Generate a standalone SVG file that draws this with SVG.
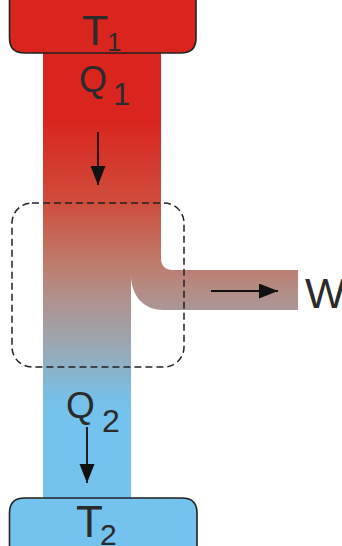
<svg xmlns="http://www.w3.org/2000/svg" width="342" height="546" viewBox="0 0 342 546">
<style>
.lbl{font-family:"Liberation Sans",Arial,sans-serif;fill:#2b2b2b}
.box{stroke:#222;stroke-width:1.6}
.arr{stroke:#111;stroke-width:1.8;fill:none}
</style>
<defs>
<linearGradient id="g" gradientUnits="userSpaceOnUse" x1="0" y1="120" x2="0" y2="420">
<stop offset="0" stop-color="#d9251e"/>
<stop offset="0.27" stop-color="#cf4c3b"/>
<stop offset="0.47" stop-color="#bf7a6a"/>
<stop offset="0.6" stop-color="#b0928e"/>
<stop offset="0.77" stop-color="#98aab8"/>
<stop offset="0.93" stop-color="#76c0e8"/>
<stop offset="1" stop-color="#74c3ee"/>
</linearGradient>
<marker id="ah" markerUnits="userSpaceOnUse" markerWidth="20" markerHeight="16" refX="19" refY="7.5" orient="auto">
<path d="M0,0 L19,7.5 L0,15 Z" fill="#111"/>
</marker>
</defs>
<g id="flow">
<path d="M43,50 H161 V258 Q161,270 173,270 H298 V310 H163 C144,310 131,296 131,275 V500 H43 Z" fill="url(#g)"/>
</g>
<g id="T1">
<path class="box" d="M9.5,-5 V38 Q9.5,53 24.5,53 H181 Q196,53 196,38 V-5 Z" fill="#d9251e"/>
<text class="lbl" x="82" y="45" font-size="43">T</text>
<text class="lbl" x="107" y="51" font-size="26">1</text>
</g>
<g id="T2">
<path class="box" d="M9.5,556 V513 Q9.5,498 24.5,498 H182 Q197,498 197,513 V556 Z" fill="#74c3ee"/>
<text class="lbl" x="76" y="537" font-size="44">T</text>
<text class="lbl" x="100" y="545" font-size="30">2</text>
</g>
<g id="Q1">
<text class="lbl" x="79" y="92" font-size="36">Q</text>
<text class="lbl" x="113" y="105" font-size="31">1</text>
</g>
<g id="Q2">
<text class="lbl" x="66" y="418" font-size="37">Q</text>
<text class="lbl" x="102" y="432" font-size="32">2</text>
</g>
<g id="W">
<text class="lbl" x="305" y="308" font-size="43">W</text>
</g>
<g id="engine">
<rect x="12" y="203" width="172" height="164" rx="20" ry="20" fill="none" stroke="#222" stroke-width="1.5" stroke-dasharray="7 4"/>
</g>
<g id="connectors">
<line class="arr" x1="98" y1="132" x2="98" y2="185" marker-end="url(#ah)"/>
<line class="arr" x1="87" y1="427" x2="87" y2="483" marker-end="url(#ah)"/>
<line class="arr" x1="211" y1="291" x2="278" y2="291" marker-end="url(#ah)"/>
</g>
</svg>
